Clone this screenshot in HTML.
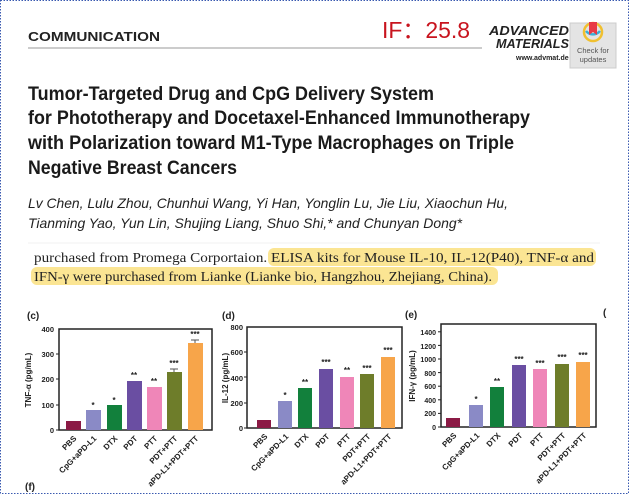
<!DOCTYPE html>
<html><head><meta charset="utf-8"><style>
html,body{margin:0;padding:0;background:#fff;}
svg{display:block;}
</style></head><body>
<svg width="630" height="495" viewBox="0 0 630 495" xmlns="http://www.w3.org/2000/svg" font-family="Liberation Sans, Arial, sans-serif">
<rect x="0.5" y="0.5" width="628" height="493" fill="#fff" stroke="#3a5ab0" stroke-width="1" stroke-dasharray="1.5,1.5"/>
<!-- header -->
<text x="28" y="41" font-size="13" font-weight="900" fill="#222" textLength="132" lengthAdjust="spacingAndGlyphs">COMMUNICATION</text>
<line x1="28" y1="48" x2="482" y2="48" stroke="#bbb" stroke-width="1.5"/>
<text x="382" y="38" font-size="23" fill="#c8141e" textLength="88" lengthAdjust="spacingAndGlyphs">IF：25.8</text>
<text x="489" y="35" font-size="13" font-weight="900" font-style="italic" fill="#222" textLength="80" lengthAdjust="spacingAndGlyphs">ADVANCED</text>
<text x="496" y="48" font-size="13" font-weight="900" font-style="italic" fill="#222" textLength="73" lengthAdjust="spacingAndGlyphs">MATERIALS</text>
<text x="516" y="60" font-size="7" font-weight="bold" fill="#222">www.advmat.de</text>
<rect x="570" y="23" width="46" height="45" fill="#e4e4e4"/>
<rect x="570" y="23" width="46" height="45" fill="none" stroke="#ccc"/>
<circle cx="593" cy="32" r="9" fill="none" stroke="#f0c030" stroke-width="2.5"/>
<path d="M586 31 A9 9 0 0 0 600 31" fill="none" stroke="#3ab0d8" stroke-width="2.5"/>
<path d="M589 22 h8 v13 l-4 -3 l-4 3 z" fill="#e83a45"/>
<text x="593" y="53" font-size="7.5" fill="#555" text-anchor="middle">Check for</text>
<text x="593" y="62" font-size="7.5" fill="#555" text-anchor="middle">updates</text>
<!-- title -->
<g font-size="19" font-weight="bold" fill="#1a1a1a">
<text x="28" y="100" textLength="406" lengthAdjust="spacingAndGlyphs">Tumor-Targeted Drug and CpG Delivery System</text>
<text x="28" y="124" textLength="502" lengthAdjust="spacingAndGlyphs">for Phototherapy and Docetaxel-Enhanced Immunotherapy</text>
<text x="28" y="149" textLength="486" lengthAdjust="spacingAndGlyphs">with Polarization toward M1-Type Macrophages on Triple</text>
<text x="28" y="174" textLength="209" lengthAdjust="spacingAndGlyphs">Negative Breast Cancers</text>
</g>
<g font-size="14" font-style="italic" fill="#222">
<text x="28" y="208" textLength="480" lengthAdjust="spacingAndGlyphs">Lv Chen, Lulu Zhou, Chunhui Wang, Yi Han, Yonglin Lu, Jie Liu, Xiaochun Hu,</text>
<text x="28" y="228" textLength="434" lengthAdjust="spacingAndGlyphs">Tianming Yao, Yun Lin, Shujing Liang, Shuo Shi,* and Chunyan Dong*</text>
</g>
<line x1="28" y1="243" x2="600" y2="243" stroke="#f0f0f0"/>
<rect x="268" y="248" width="328" height="18" rx="6" fill="#fbe593"/>
<rect x="31" y="267" width="467" height="18" rx="6" fill="#fbe593"/>
<g font-family="Liberation Serif, serif" font-size="14" fill="#222">
<text x="34" y="262" textLength="560" lengthAdjust="spacingAndGlyphs">purchased from Promega Corportaion. ELISA kits for Mouse IL-10, IL-12(P40), TNF-α and</text>
<text x="34" y="281" textLength="458" lengthAdjust="spacingAndGlyphs">IFN-γ were purchased from Lianke (Lianke bio, Hangzhou, Zhejiang, China).</text>
</g>
<!-- panel labels -->
<g font-size="10" font-weight="bold" fill="#222">
<text x="27" y="319">(c)</text>
<text x="222" y="319">(d)</text>
<text x="405" y="318">(e)</text>
<text x="603" y="316">(</text>
<text x="25" y="490">(f)</text>
</g>

<!-- Panel c -->
<g font-size="7.5" font-weight="bold" fill="#222">
<rect x="59" y="329" width="153" height="101" fill="none" stroke="#222" stroke-width="1.5"/>
<g text-anchor="end">
<text x="54" y="433">0</text><text x="54" y="408">100</text><text x="54" y="382">200</text><text x="54" y="357">300</text><text x="54" y="332">400</text>
</g>
<g stroke="#222"><line x1="56" y1="430" x2="59" y2="430"/><line x1="56" y1="405" x2="59" y2="405"/><line x1="56" y1="379" x2="59" y2="379"/><line x1="56" y1="354" x2="59" y2="354"/></g>
<text transform="translate(31,380) rotate(-90)" text-anchor="middle" font-size="8">TNF-α (pg/mL)</text>
<rect x="66" y="421" width="15" height="9" fill="#8b1a45"/>
<rect x="86" y="410" width="15" height="20" fill="#8a8ac6"/>
<rect x="107" y="405" width="15" height="25" fill="#12803c"/>
<rect x="127" y="381" width="15" height="49" fill="#6a4ea2"/>
<rect x="147" y="387" width="15" height="43" fill="#ef86b8"/>
<rect x="167" y="372" width="15" height="58" fill="#6e7d2a"/>
<rect x="188" y="343" width="15" height="87" fill="#f7a54a"/>
<g stroke="#555"><line x1="195" y1="340" x2="195" y2="343"/><line x1="191" y1="340" x2="199" y2="340"/><line x1="174" y1="369" x2="174" y2="372"/><line x1="170" y1="369" x2="178" y2="369"/></g>
<g text-anchor="middle" font-size="8"><text x="93" y="408">*</text><text x="114" y="403">*</text><text x="134" y="378">**</text><text x="154" y="384">**</text><text x="174" y="366">***</text><text x="195" y="337">***</text></g>
<g text-anchor="end" font-size="8">
<text transform="translate(77,439) rotate(-45)">PBS</text>
<text transform="translate(97,439) rotate(-45)">CpG+aPD-L1</text>
<text transform="translate(118,439) rotate(-45)">DTX</text>
<text transform="translate(138,439) rotate(-45)">PDT</text>
<text transform="translate(158,439) rotate(-45)">PTT</text>
<text transform="translate(178,439) rotate(-45)">PDT+PTT</text>
<text transform="translate(199,439) rotate(-45)">aPD-L1+PDT+PTT</text>
</g>
</g>

<!-- Panel d -->
<g font-size="7.5" font-weight="bold" fill="#222">
<rect x="247" y="327" width="155" height="101" fill="none" stroke="#222" stroke-width="1.5"/>
<g text-anchor="end">
<text x="243" y="431">0</text><text x="243" y="406">200</text><text x="243" y="381">400</text><text x="243" y="355">600</text><text x="243" y="330">800</text>
</g>
<g stroke="#222"><line x1="244" y1="428" x2="247" y2="428"/><line x1="244" y1="403" x2="247" y2="403"/><line x1="244" y1="377" x2="247" y2="377"/><line x1="244" y1="352" x2="247" y2="352"/></g>
<text transform="translate(228,378) rotate(-90)" text-anchor="middle" font-size="8">IL-12 (pg/mL)</text>
<rect x="257" y="420" width="14" height="8" fill="#8b1a45"/>
<rect x="278" y="401" width="14" height="27" fill="#8a8ac6"/>
<rect x="298" y="388" width="14" height="40" fill="#12803c"/>
<rect x="319" y="369" width="14" height="59" fill="#6a4ea2"/>
<rect x="340" y="377" width="14" height="51" fill="#ef86b8"/>
<rect x="360" y="374" width="14" height="54" fill="#6e7d2a"/>
<rect x="381" y="357" width="14" height="71" fill="#f7a54a"/>
<g text-anchor="middle" font-size="8"><text x="285" y="398">*</text><text x="305" y="385">**</text><text x="326" y="365">***</text><text x="347" y="373">**</text><text x="367" y="371">***</text><text x="388" y="353">***</text></g>
<g text-anchor="end" font-size="8">
<text transform="translate(268,437) rotate(-45)">PBS</text>
<text transform="translate(289,437) rotate(-45)">CpG+aPD-L1</text>
<text transform="translate(309,437) rotate(-45)">DTX</text>
<text transform="translate(330,437) rotate(-45)">PDT</text>
<text transform="translate(351,437) rotate(-45)">PTT</text>
<text transform="translate(371,437) rotate(-45)">PDT+PTT</text>
<text transform="translate(392,437) rotate(-45)">aPD-L1+PDT+PTT</text>
</g>
</g>

<!-- Panel e -->
<g font-size="7" font-weight="bold" fill="#222">
<rect x="441" y="324" width="155" height="103" fill="none" stroke="#222" stroke-width="1.5"/>
<g text-anchor="end">
<text x="436" y="430">0</text><text x="436" y="416">200</text><text x="436" y="403">400</text><text x="436" y="389">600</text><text x="436" y="376">800</text><text x="436" y="362">1000</text><text x="436" y="349">1200</text><text x="436" y="335">1400</text>
</g>
<g stroke="#222"><line x1="438" y1="427" x2="441" y2="427"/><line x1="438" y1="413.4" x2="441" y2="413.4"/><line x1="438" y1="399.8" x2="441" y2="399.8"/><line x1="438" y1="386.2" x2="441" y2="386.2"/><line x1="438" y1="372.6" x2="441" y2="372.6"/><line x1="438" y1="359" x2="441" y2="359"/><line x1="438" y1="345.4" x2="441" y2="345.4"/><line x1="438" y1="331.8" x2="441" y2="331.8"/></g>
<text transform="translate(415,376) rotate(-90)" text-anchor="middle" font-size="8">IFN-γ (pg/mL)</text>
<rect x="446" y="418" width="14" height="9" fill="#8b1a45"/>
<rect x="469" y="405" width="14" height="22" fill="#8a8ac6"/>
<rect x="490" y="387" width="14" height="40" fill="#12803c"/>
<rect x="512" y="365" width="14" height="62" fill="#6a4ea2"/>
<rect x="533" y="369" width="14" height="58" fill="#ef86b8"/>
<rect x="555" y="364" width="14" height="63" fill="#6e7d2a"/>
<rect x="576" y="362" width="14" height="65" fill="#f7a54a"/>
<g text-anchor="middle" font-size="8"><text x="476" y="402">*</text><text x="497" y="384">**</text><text x="519" y="362">***</text><text x="540" y="366">***</text><text x="562" y="360">***</text><text x="583" y="358">***</text></g>
<g text-anchor="end" font-size="8">
<text transform="translate(457,436) rotate(-45)">PBS</text>
<text transform="translate(480,436) rotate(-45)">CpG+aPD-L1</text>
<text transform="translate(501,436) rotate(-45)">DTX</text>
<text transform="translate(523,436) rotate(-45)">PDT</text>
<text transform="translate(544,436) rotate(-45)">PTT</text>
<text transform="translate(566,436) rotate(-45)">PDT+PTT</text>
<text transform="translate(587,436) rotate(-45)">aPD-L1+PDT+PTT</text>
</g>
</g>
</svg>
</body></html>
